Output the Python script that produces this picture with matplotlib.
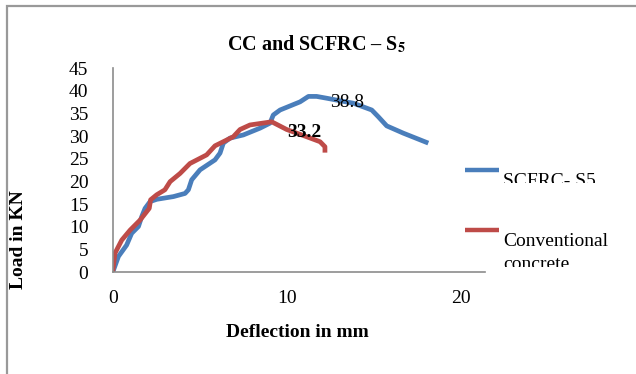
import matplotlib
matplotlib.use("Agg")
import matplotlib.pyplot as plt
from matplotlib.patches import Rectangle
from matplotlib.lines import Line2D

plt.rcParams['font.family'] = ['Liberation Serif', 'DejaVu Serif']
plt.rcParams['mathtext.fontset'] = 'stix'

scfrc_x = [0, 0.33, 0.80, 1.09, 1.48, 1.67, 1.86, 2.15, 2.53, 3.49, 4.16, 4.35, 4.54, 5.02,
           5.88, 6.17, 6.36, 6.74, 7.51, 8.47, 9.04, 9.23, 9.62, 10.77, 11.25, 11.72, 12.3,
           13.83, 14.89, 15.27, 15.75, 16.7, 18.14]
scfrc_y = [0, 3.5, 6.0, 8.6, 10.1, 12.3, 14.1, 15.6, 16.1, 16.7, 17.4, 18.2, 20.4, 22.6,
           24.8, 26.3, 28.5, 29.6, 30.3, 31.8, 32.9, 34.7, 35.8, 37.6, 38.8, 38.8, 38.4,
           37.3, 35.8, 34.3, 32.3, 30.7, 28.5]

cc_x = [0, 0.13, 0.52, 1.0, 1.57, 2.1, 2.18, 2.53, 3.0, 3.3, 3.87, 4.44, 5.4, 5.88, 6.93,
        7.32, 7.89, 9.14, 10.0, 11.15, 11.92, 12.2, 12.2]
cc_y = [0, 4.2, 7.1, 9.3, 11.5, 14.1, 16.0, 17.1, 18.2, 20.0, 21.8, 24.0, 25.9, 27.9, 29.9,
        31.5, 32.5, 33.2, 31.5, 29.9, 28.8, 27.7, 26.4]

series_names = ["SCFRC- S5", "Conventional", "concrete"]
peak_labels = ["38.8", "33.2"]
x_ticks = [0, 10, 20]
y_ticks = [0, 5, 10, 15, 20, 25, 30, 35, 40, 45]

blue = '#4A7EBB'
red = '#BE4B48'
FS = 14

W, H = 636, 374
fig = plt.figure(figsize=(W / 100, H / 100), dpi=100)


def fx(px):
    return px / W


def fy(py):
    return 1 - py / H


# outer frame (top & left visible)
fig.patches.append(Rectangle((fx(7), -0.1), 1.2, fy(6) + 0.1, transform=fig.transFigure,
                             fill=False, edgecolor='#999999', lw=1.6))

ax = fig.add_axes([fx(112.7), fy(272.3), (485 - 112.7) / W, (272.3 - 68.3) / H])
ax.plot(scfrc_x, scfrc_y, color=blue, lw=3.4, solid_capstyle='butt', solid_joinstyle='round')
ax.plot(cc_x, cc_y, color=red, lw=3.4, solid_capstyle='butt', solid_joinstyle='round')

ax.set_xlim(0, 21.4)
ax.set_ylim(0, 45)
ax.set_xticks(x_ticks)
ax.set_yticks(y_ticks)
ax.tick_params(length=0, labelsize=FS)
ax.tick_params(axis='x', pad=13)
ax.tick_params(axis='y', pad=17.5)
for s in ['top', 'right']:
    ax.spines[s].set_visible(False)
for s in ['left', 'bottom']:
    ax.spines[s].set_color('#8c8c8c')
    ax.spines[s].set_linewidth(1.2)

lab1 = ax.text(12.49, 36.47, peak_labels[0], fontsize=FS, ha='left', va='baseline')
lab1.set_clip_path(Rectangle((0, 0), 1, fy(96.5), transform=fig.transFigure))
ax.text(10.02, 29.85, peak_labels[1], fontsize=FS, ha='left', va='baseline', fontweight='bold')

fig.text(fx(297.5), fy(336.7), "Deflection in mm", fontsize=FS, fontweight='bold',
         ha='center', va='baseline')
fig.text(fx(23.3), fy(240), "Load in KN", rotation=90, fontsize=FS, fontweight='bold',
         ha='center', va='baseline', rotation_mode='anchor')

fig.text(fx(316), fy(50), r"CC and SCFRC – S$_\mathbf{5}$", fontsize=14.5, fontweight='bold',
         ha='center', va='baseline')

# legend
fig.add_artist(Line2D([fx(465), fx(499)], [fy(170.5), fy(170.5)], color=blue, lw=3.2,
                      transform=fig.transFigure, solid_capstyle='butt'))
fig.add_artist(Line2D([fx(465), fx(499)], [fy(229.6), fy(229.6)], color=red, lw=3.2,
                      transform=fig.transFigure, solid_capstyle='butt'))
t1 = fig.text(fx(503), fy(186), series_names[0], fontsize=FS, ha='left', va='baseline')
t2 = fig.text(fx(503), fy(246), series_names[1], fontsize=FS, ha='left', va='baseline')
t3 = fig.text(fx(503), fy(269), series_names[2], fontsize=FS, ha='left', va='baseline')
t1.set_clip_path(Rectangle((0, fy(183)), 1, 0.3, transform=fig.transFigure))
t3.set_clip_path(Rectangle((0, fy(267)), 1, 0.3, transform=fig.transFigure))

fig.savefig("out.png", dpi=100)
